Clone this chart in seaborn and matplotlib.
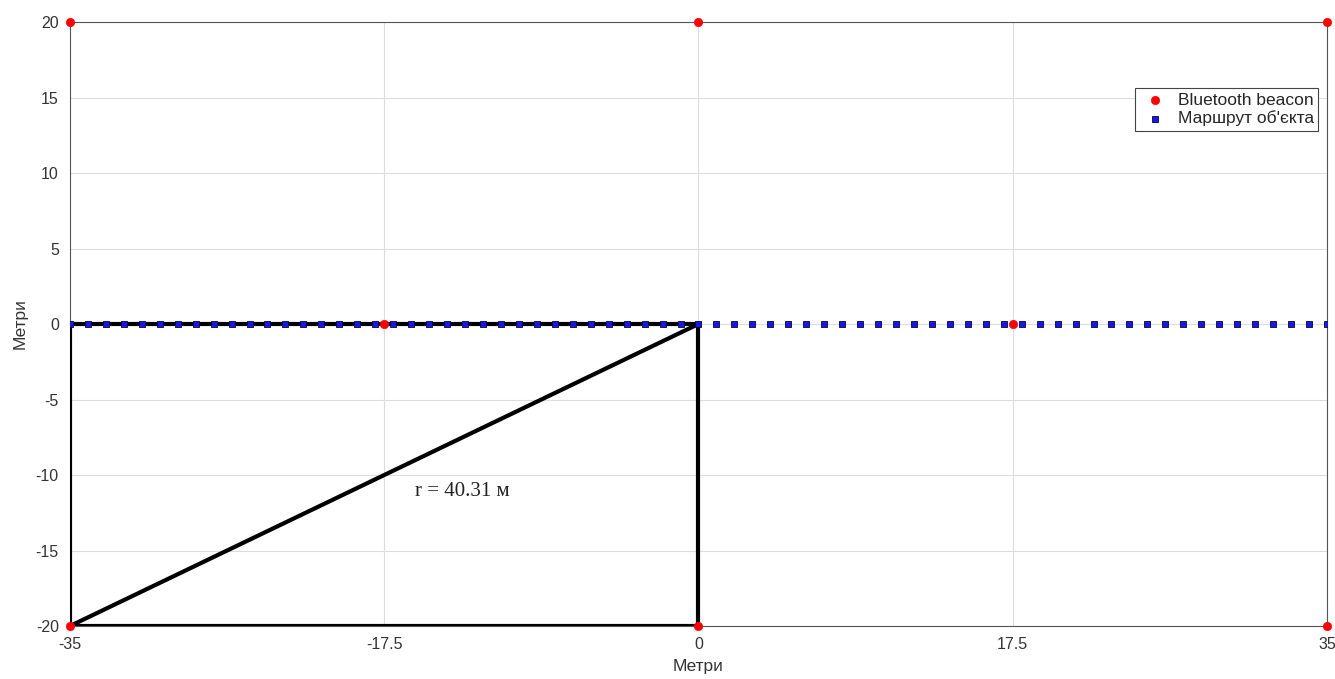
import numpy as np
import pandas as pd
import matplotlib
matplotlib.use('Agg')
import matplotlib.pyplot as plt
import seaborn as sns

# ---- data ----
beacon_x = [-35, 0, 35, -17.5, 17.5, -35, 0, 35]
beacon_y = [20, 20, 20, 0, 0, -20, -20, -20]

route_x = [-35, -34, -33, -32, -31, -30, -29, -28, -27, -26, -25, -24, -23, -22, -21,
           -20, -19, -18, -17, -16, -15, -14, -13, -12, -11, -10, -9, -8, -7, -6, -5,
           -4, -3, -2, -1, 0, 1, 2, 3, 4, 5, 6, 7, 8, 9, 10, 11, 12, 13, 14, 15, 16,
           17, 18, 19, 20, 21, 22, 23, 24, 25, 26, 27, 28, 29, 30, 31, 32, 33, 34, 35]
route_y = [0] * len(route_x)

# rectangle + diagonal
rect_x = [-35, 0, 0, -35, -35]
rect_y = [0, 0, -20, -20, 0]
diag_x = [-35, 0]
diag_y = [-20, 0]

x_ticks = [-35, -17.5, 0, 17.5, 35]
x_tick_labels = ['-35', '-17.5', '0', '17.5', '35']
y_ticks = [-20, -15, -10, -5, 0, 5, 10, 15, 20]

radius_label = 'r = 40.31 м'

sns.set_theme(style='whitegrid')
plt.rcParams['font.family'] = ['Liberation Sans', 'DejaVu Sans']
plt.rcParams['axes.unicode_minus'] = False

fig = plt.figure(figsize=(13.35, 6.79), dpi=100)
ax = fig.add_axes([0.0524, 0.078, 0.9416, 0.8896])

df_rect = pd.DataFrame({'x': rect_x, 'y': rect_y})
df_diag = pd.DataFrame({'x': diag_x, 'y': diag_y})
sns.lineplot(data=df_rect, x='x', y='y', sort=False, estimator=None, color='black',
             linewidth=3, ax=ax, zorder=3)
sns.lineplot(data=df_diag, x='x', y='y', sort=False, estimator=None, color='black',
             linewidth=3, ax=ax, zorder=3)

df_route = pd.DataFrame({'x': route_x, 'y': route_y})
sns.scatterplot(data=df_route, x='x', y='y', marker='s', s=20, color='#1a1ad0',
                edgecolor='#00006e', linewidth=0.6, ax=ax, zorder=4, label='Маршрут об\'єкта')

df_beacon = pd.DataFrame({'x': beacon_x, 'y': beacon_y})
sns.scatterplot(data=df_beacon, x='x', y='y', marker='o', s=36, color='red',
                edgecolor='red', ax=ax, zorder=5, label='Bluetooth beacon', clip_on=False)

ax.text(-15.8, -11.1, radius_label, fontsize=15, family='Liberation Serif',
        va='center', ha='left', color='#222222')

ax.set_xlim(-35, 35)
ax.set_ylim(-20, 20)
ax.set_xticks(x_ticks)
ax.set_xticklabels(x_tick_labels)
ax.set_yticks(y_ticks)
ax.tick_params(labelsize=11.5, colors='#333333', pad=2)
ax.set_xlabel('Метри', fontsize=12.5, color='#333333', labelpad=5)
ax.set_ylabel('Метри', fontsize=12.5, color='#333333', labelpad=6)
ax.grid(True, color='#dddddd', linewidth=0.8)
for sp in ax.spines.values():
    sp.set_color('#555555')
    sp.set_linewidth(0.8)

handles, labels = ax.get_legend_handles_labels()
order = [labels.index('Bluetooth beacon'), labels.index('Маршрут об\'єкта')]
leg = ax.legend([handles[i] for i in order], [labels[i] for i in order],
                loc='upper right', bbox_to_anchor=(0.993, 0.89), fontsize=12.5,
                frameon=True, fancybox=False, framealpha=1, edgecolor='#444444',
                handletextpad=0.4, borderpad=0.25, labelspacing=0.15, handlelength=1.8,
                markerscale=1.0, borderaxespad=0)
leg.get_frame().set_linewidth(0.8)

fig.savefig('out.png', dpi=100)
